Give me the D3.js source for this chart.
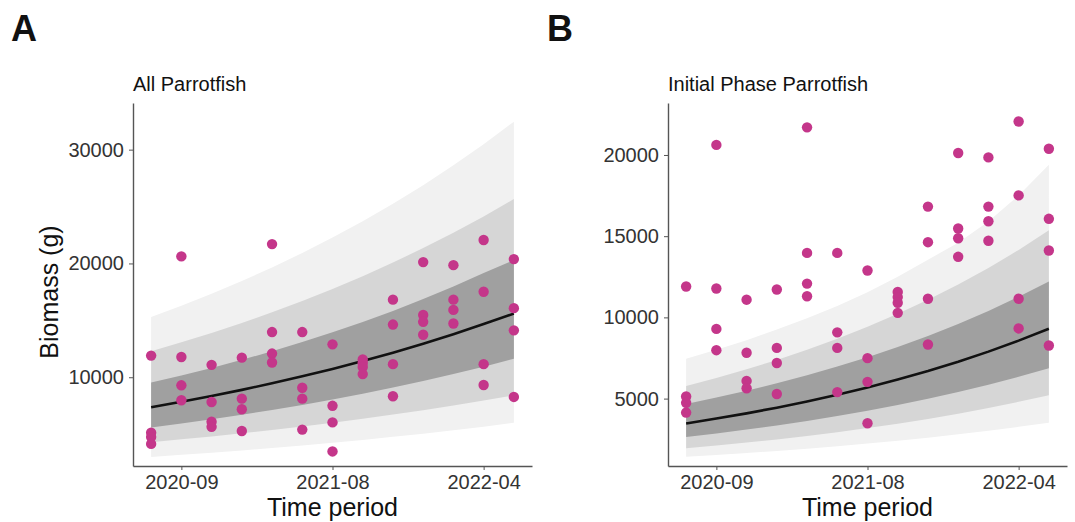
<!DOCTYPE html>
<html>
<head>
<meta charset="utf-8">
<script src="https://cdn.jsdelivr.net/npm/d3@7"></script>
<style>
  body { margin: 0; background: #fff; }
  svg { font-family: 'Liberation Sans', Arial, sans-serif; }
</style>
</head>
<body>
<div id="chart"></div>
<script>
// survey periods (categorical, 13 visits) and the ones that carry a label
const periods = [1, 2, 3, 4, 5, 6, 7, 8, 9, 10, 11, 12, 13]
const tickPeriods = [2, 7, 12]
const tickLabels = ['2020-09', '2021-08', '2022-04']

// observed biomass (g) per period, 4 transects each
const biomass = [
  [11900, 5130, 4740, 4140],
  [20620, 11780, 9290, 7980],
  [11090, 7820, 6090, 5640],
  [11720, 8120, 7190, 5280],
  [21700, 13970, 12080, 11300],
  [13970, 9080, 8120, 5400],
  [12890, 7490, 6030, 3480],
  [11570, 11250, 10900, 10280],
  [16820, 14630, 11150, 8330],
  [20120, 15470, 14870, 13730],
  [19850, 16820, 15920, 14720],
  [22060, 17510, 11150, 9320],
  [20380, 16070, 14120, 8270]
]

// panel A - all parrotfish, model prediction + intervals
const aMedian = [7370, 7850, 8350, 8890, 9470, 10080, 10730, 11420, 12160, 12940, 13780, 14670, 15590]
const aDarkLo = [5580, 5930, 6300, 6700, 7120, 7570, 8050, 8560, 9100, 9670, 10280, 10930, 11630]
const aDarkHi = [9530, 10150, 10820, 11530, 12280, 13090, 13950, 14860, 15830, 16870, 17980, 19150, 20300]
const aMidLo = [4290, 4540, 4800, 5080, 5370, 5680, 6010, 6360, 6720, 7110, 7520, 7960, 8420]
const aMidHi = [12290, 13070, 13890, 14770, 15710, 16700, 17760, 18880, 20080, 21350, 22700, 24130, 25660]
const aLightLo = [3000, 3180, 3370, 3570, 3780, 4000, 4240, 4490, 4760, 5040, 5340, 5660, 6000]
const aLightHi = [15290, 16280, 17330, 18450, 19650, 20920, 22270, 23710, 25250, 26880, 28620, 30480, 32460]
const aTicks = [10000, 20000, 30000]

// panel B - initial phase parrotfish
const bMedian = [3472, 3769, 4092, 4442, 4822, 5235, 5683, 6170, 6698, 7271, 7893, 8569, 9302]
const bDarkLo = [2635, 2854, 3091, 3348, 3626, 3928, 4254, 4608, 4991, 5405, 5855, 6341, 6868]
const bDarkHi = [4670, 5060, 5480, 5940, 6430, 6970, 7550, 8180, 8860, 9600, 10400, 11270, 12210]
const bMidLo = [1943, 2110, 2290, 2487, 2700, 2931, 3183, 3455, 3751, 4073, 4422, 4801, 5213]
const bMidHi = [5780, 6270, 6800, 7380, 8000, 8680, 9420, 10220, 11080, 12020, 13040, 14150, 15360]
const bLightLo = [1415, 1527, 1647, 1777, 1917, 2068, 2231, 2407, 2596, 2801, 3021, 3259, 3516]
const bLightHi = [7450, 8000, 8600, 9250, 9950, 10700, 11550, 12500, 13550, 14600, 15900, 17500, 19400]
const bTicks = [5000, 10000, 15000, 20000]

const width = 1075
const height = 522

const svg = d3
  .select('#chart')
  .append('svg')
  .attr('width', width)
  .attr('height', height)

svg.append('rect').attr('width', width).attr('height', height).attr('fill', '#fff')

const axisColor = '#555'
const textColor = '#333'

function drawPanel(opts) {
  const x = d3.scaleLinear().domain([0.4, 13.6]).range([opts.left, opts.right])
  const y = d3.scaleLinear().domain(opts.yDomain).range([466, 103])

  const g = svg.append('g')

  const band = (lo, hi, fill) => {
    const area = d3
      .area()
      .x((d, i) => x(periods[i]))
      .y0((d, i) => y(lo[i]))
      .y1((d, i) => y(hi[i]))
    g.append('path').datum(periods).attr('d', area).attr('fill', fill)
  }
  band(opts.lightLo, opts.lightHi, '#f1f1f1')
  band(opts.midLo, opts.midHi, '#d6d6d6')
  band(opts.darkLo, opts.darkHi, '#a0a0a0')

  const line = d3
    .line()
    .x((d, i) => x(periods[i]))
    .y(d => y(d))
  g.append('path')
    .datum(opts.median)
    .attr('d', line)
    .attr('fill', 'none')
    .attr('stroke', '#111')
    .attr('stroke-width', 2.6)

  const pts = []
  biomass.forEach((vals, i) => vals.forEach(v => pts.push({ p: periods[i], v })))
  g.selectAll('circle.obs')
    .data(pts)
    .join('circle')
    .attr('class', 'obs')
    .attr('cx', d => x(d.p))
    .attr('cy', d => y(d.v))
    .attr('r', 5.2)
    .attr('fill', '#c4368a')

  // axes
  const xAxis = g
    .append('g')
    .attr('transform', `translate(0,${y.range()[0]})`)
    .call(
      d3
        .axisBottom(x)
        .tickValues(tickPeriods)
        .tickFormat((d, i) => tickLabels[i])
        .tickSize(4)
        .tickSizeOuter(0)
    )
  const yAxis = g
    .append('g')
    .attr('transform', `translate(${opts.left},0)`)
    .call(d3.axisLeft(y).tickValues(opts.ticks).tickFormat(d3.format('d')).tickSize(4).tickSizeOuter(0))

  ;[xAxis, yAxis].forEach(a => {
    a.select('.domain').attr('stroke', axisColor).attr('stroke-width', 1.4)
    a.selectAll('.tick line').attr('stroke', axisColor)
    a.selectAll('.tick text')
      .attr('fill', textColor)
      .style('font-size', '20px')
      .style('font-family', "'Liberation Sans', Arial, sans-serif")
  })
  xAxis.selectAll('.tick text').attr('dy', '0.78em')
  yAxis.selectAll('.tick text').attr('dx', '-0.1em')

  svg.append('text')
    .attr('x', (opts.left + opts.right) / 2)
    .attr('y', 516)
    .attr('text-anchor', 'middle')
    .attr('fill', '#111')
    .style('font-size', '25px')
    .text('Time period')

  svg.append('text')
    .attr('x', opts.left)
    .attr('y', 91)
    .attr('fill', '#111')
    .style('font-size', '20px')
    .text(opts.title)

  svg.append('text')
    .attr('x', opts.tagX)
    .attr('y', 41)
    .attr('fill', '#111')
    .attr('font-weight', 700)
    .style('font-size', '36px')
    .text(opts.tag)
}

drawPanel({
  left: 133, right: 532, yDomain: [2200, 34100], ticks: aTicks,
  median: aMedian, darkLo: aDarkLo, darkHi: aDarkHi, midLo: aMidLo, midHi: aMidHi,
  lightLo: aLightLo, lightHi: aLightHi,
  title: 'All Parrotfish', tag: 'A', tagX: 11
})

drawPanel({
  left: 668, right: 1067, yDomain: [850, 23200], ticks: bTicks,
  median: bMedian, darkLo: bDarkLo, darkHi: bDarkHi, midLo: bMidLo, midHi: bMidHi,
  lightLo: bLightLo, lightHi: bLightHi,
  title: 'Initial Phase Parrotfish', tag: 'B', tagX: 547
})

svg.append('text')
  .attr('transform', 'translate(58,292) rotate(-90)')
  .attr('text-anchor', 'middle')
  .attr('fill', '#111')
  .style('font-size', '25px')
  .text('Biomass (g)')
</script>
</body>
</html>
